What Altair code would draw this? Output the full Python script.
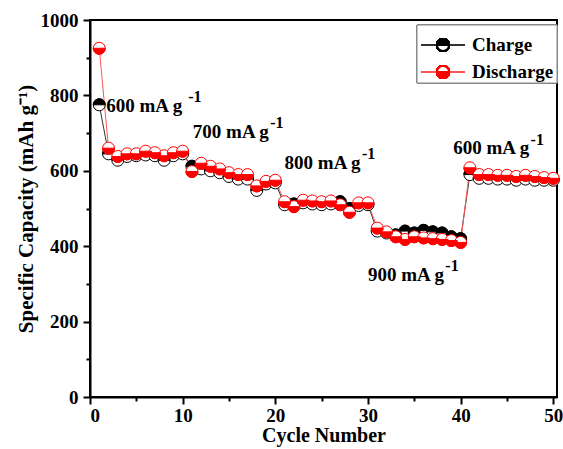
import altair as alt
import pandas as pd

cycles = list(range(1, 51))
charge = [775, 645, 628, 638, 640, 642, 640, 628, 640, 645,
          612, 605, 600, 595, 585, 578, 578, 548, 565, 568,
          510, 512, 515, 512, 510, 512, 518, 500, 508, 510,
          440, 435, 430, 440, 435, 442, 438, 435, 425, 420,
          590, 580, 580, 578, 578, 575, 578, 575, 575, 575]
discharge = [925, 660, 638, 645, 645, 652, 648, 640, 648, 652,
             598, 620, 612, 605, 595, 590, 590, 560, 572, 575,
             518, 505, 522, 520, 518, 520, 510, 490, 515, 515,
             448, 438, 425, 418, 425, 422, 420, 418, 415, 410,
             608, 590, 590, 588, 588, 585, 588, 585, 582, 580]

ann_text = ["600 mA g", "700 mA g", "800 mA g", "900 mA g", "600 mA g"]
ann_x = [1.75, 11.1, 21.0, 30.0, 39.2]
ann_y = [772, 703, 621, 324, 660]
sup_x = [10.6, 19.45, 29.35, 38.35, 47.55]
sup_y = [795, 726, 644, 347, 683]

FONT = "Liberation Serif"
TOP = "M-1,0 A1,1 0 0 1 1,0 Z"
BOT = "M-1,0 A1,1 0 0 0 1,0 Z"
SIZE = 144

df = pd.DataFrame({"cycle": cycles, "charge": charge, "discharge": discharge})
ann = pd.DataFrame({"x": ann_x, "y": ann_y, "t": ann_text})
sup = pd.DataFrame({"x": sup_x, "y": sup_y, "t": ["-1"] * len(sup_x)})

xaxis = alt.Axis(values=list(range(0, 51, 5)), format="d",
                 labelExpr="datum.value % 10 === 0 ? datum.label : ''",
                 tickSize={"condition": {"test": "datum.value % 10 === 0", "value": 7}, "value": 4},
                 title="Cycle Number", titlePadding=0, labelPadding=2, titleFontSize=20)
yaxis = alt.Axis(values=list(range(0, 1001, 100)), format="d",
                 labelExpr="datum.value % 200 === 0 ? datum.label : ''",
                 tickSize={"condition": {"test": "datum.value % 200 === 0", "value": 7}, "value": 4},
                 title="Specific Capacity (mAh g\u207b\u00b9)", titlePadding=4, labelPadding=5,
                 titleFontSize=21)

xs = alt.Scale(domain=[0, 50.4], nice=False, zero=False)
ys = alt.Scale(domain=[0, 1000], nice=False)


def X(field):
    return alt.X(field, type="quantitative", scale=xs, axis=xaxis)


def Y(field):
    return alt.Y(field, type="quantitative", scale=ys, axis=yaxis)


base = alt.Chart(df)
c_line = base.mark_line(color="#333333", strokeWidth=1).encode(x=X("cycle"), y=Y("charge"))
c_circ = base.mark_point(shape="circle", filled=True, fill="white", stroke="black",
                         strokeWidth=1, size=SIZE, opacity=1).encode(x=X("cycle"), y=Y("charge"))
c_half = base.mark_point(shape=TOP, filled=True, fill="black", stroke="black",
                         strokeWidth=1, size=SIZE, opacity=1).encode(x=X("cycle"), y=Y("charge"))
d_line = base.mark_line(color="#ff5555", strokeWidth=1).encode(x=X("cycle"), y=Y("discharge"))
d_circ = base.mark_point(shape="circle", filled=True, fill="white", stroke="red",
                         strokeWidth=1, size=SIZE, opacity=1).encode(x=X("cycle"), y=Y("discharge"))
d_half = base.mark_point(shape=BOT, filled=True, fill="red", stroke="red",
                         strokeWidth=1, size=SIZE, opacity=1).encode(x=X("cycle"), y=Y("discharge"))

ann_l = alt.Chart(ann).mark_text(font=FONT, fontWeight="bold", fontSize=19, align="left",
                                 baseline="middle", color="black").encode(
    x=X("x"), y=Y("y"), text="t:N")
sup_l = alt.Chart(sup).mark_text(font=FONT, fontWeight="bold", fontSize=16, align="left",
                                 baseline="middle", color="black").encode(
    x=X("x"), y=Y("y"), text="t:N")

# legend (decoration)
leg_box = alt.Chart(df).mark_rect(fill="white", stroke="#888888", strokeWidth=1).encode(
    x=alt.value(327), x2=alt.value(467), y=alt.value(5), y2=alt.value(63))
leg_l1 = alt.Chart(df).mark_rule(color="#333333", strokeWidth=1).encode(
    x=alt.value(331), x2=alt.value(375), y=alt.value(25))
leg_l2 = alt.Chart(df).mark_rule(color="#ff5555", strokeWidth=1).encode(
    x=alt.value(331), x2=alt.value(375), y=alt.value(52))
leg_p1a = alt.Chart(df).mark_point(shape="circle", filled=True, fill="white", stroke="black",
                                   size=SIZE, opacity=1).encode(x=alt.value(353), y=alt.value(25))
leg_p1b = alt.Chart(df).mark_point(shape=TOP, filled=True, fill="black", stroke="black",
                                   size=SIZE, opacity=1).encode(x=alt.value(353), y=alt.value(25))
leg_p2a = alt.Chart(df).mark_point(shape="circle", filled=True, fill="white", stroke="red",
                                   size=SIZE, opacity=1).encode(x=alt.value(353), y=alt.value(52))
leg_p2b = alt.Chart(df).mark_point(shape=BOT, filled=True, fill="red", stroke="red",
                                   size=SIZE, opacity=1).encode(x=alt.value(353), y=alt.value(52))
leg_t = alt.Chart(pd.DataFrame({"t": ["Charge", "Discharge"], "py": [25, 52]})).mark_text(
    font=FONT, fontWeight="bold", fontSize=19, align="left", baseline="middle", color="black").encode(
    x=alt.value(382), y=alt.Y("py:Q", scale=None), text="t:N")

chart = alt.layer(c_line, d_line, c_circ, c_half, d_circ, d_half, ann_l, sup_l,
                  leg_box, leg_l1, leg_l2, leg_p1a, leg_p1b, leg_p2a, leg_p2b, leg_t).properties(
    width=467, height=377,
    background="white",
    autosize=alt.AutoSizeParams(type="none"),
    padding={"left": 90, "top": 20, "right": 6, "bottom": 52},
).configure_view(stroke="black", strokeWidth=2).configure_axis(
    grid=False, domainColor="black", domainWidth=2, tickColor="black", tickWidth=2,
    labelFont=FONT, labelFontWeight="bold", labelFontSize=19, labelColor="black",
    titleFont=FONT, titleFontWeight="bold", titleFontSize=19, titleColor="black",
)

chart.save("out.html", embed_options={"renderer": "svg", "actions": False})
